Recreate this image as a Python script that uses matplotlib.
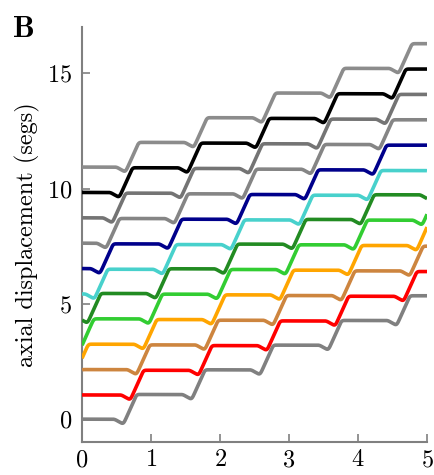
import numpy as np
import matplotlib
matplotlib.use("Agg")
import matplotlib.pyplot as plt

# =========================
# datos
# =========================
# tiempo del minimo (antes del paso) para cada segmento
fases = [0.60, 0.70, 0.79, 0.89, 0.97, 1.07, 1.17, 1.25, 1.34, 1.43, 1.53, 1.62]
# nivel de la meseta antes de ese paso
niveles = [0.0, 1.05, 2.15, 3.25, 4.35, 5.45, 6.5, 7.6, 8.7, 9.8, 10.9, 12.0]
colores = ['#808080', '#ff0000', '#cd853f', '#ffa500', '#32cd32', '#228b22',
           '#48d1cc', '#00008b', '#858585', '#747474', '#000000', '#8c8c8c']
periodo = 0.99
paso = 1.07
caida = 0.22

xticks = [0, 1, 2, 3, 4, 5]
yticks = [0, 5, 10, 15]

plt.rcParams['font.family'] = 'serif'
plt.rcParams['font.serif'] = ['cmr10']
plt.rcParams['axes.formatter.use_mathtext'] = True
plt.rcParams['mathtext.fontset'] = 'cm'

t = np.linspace(-1.5, 6.5, 8001)
dt = t[1] - t[0]
sig = 0.018
ker = np.exp(-0.5 * (np.arange(-60, 61) * dt / sig) ** 2)
ker /= ker.sum()


def curva(fase, nivel):
    xs, ys = [], []
    for n in range(-3, 8):
        tn = fase + n * periodo
        yn = nivel + n * paso
        xs += [tn - 0.13, tn, tn + 0.19]
        ys += [yn, yn - caida, yn + paso]
    y = np.interp(t, xs, ys)
    return np.convolve(y, ker, mode='same')


fig = plt.figure(figsize=(4.34, 4.75), dpi=100)
ax = fig.add_axes([0.189, 0.069, 0.795, 0.874])

for f, nv, c in zip(fases, niveles, colores):
    y = curva(f, nv)
    m = (t >= 0) & (t <= 5)
    ax.plot(t[m], y[m], color=c, lw=2.6, solid_capstyle='butt', zorder=3)

ax.set_xlim(0, 5)
ax.set_ylim(-1, 17)
ax.set_xticks(xticks)
ax.set_yticks(yticks)
for s in ['top', 'right']:
    ax.spines[s].set_visible(False)
for s in ['left', 'bottom']:
    ax.spines[s].set_color('#808080')
    ax.spines[s].set_linewidth(1.5)
ax.tick_params(direction='in', length=5.5, width=1.2, color='#808080',
               labelsize=17.5)
ax.tick_params(axis='y', pad=7)
ax.tick_params(axis='x', pad=5)
ax.set_ylabel('axial displacement (segs)', fontsize=17.5, labelpad=5)

fig.text(0.03, 0.922, 'B', fontsize=22, family='cmb10')

fig.savefig('out.png', dpi=100)
